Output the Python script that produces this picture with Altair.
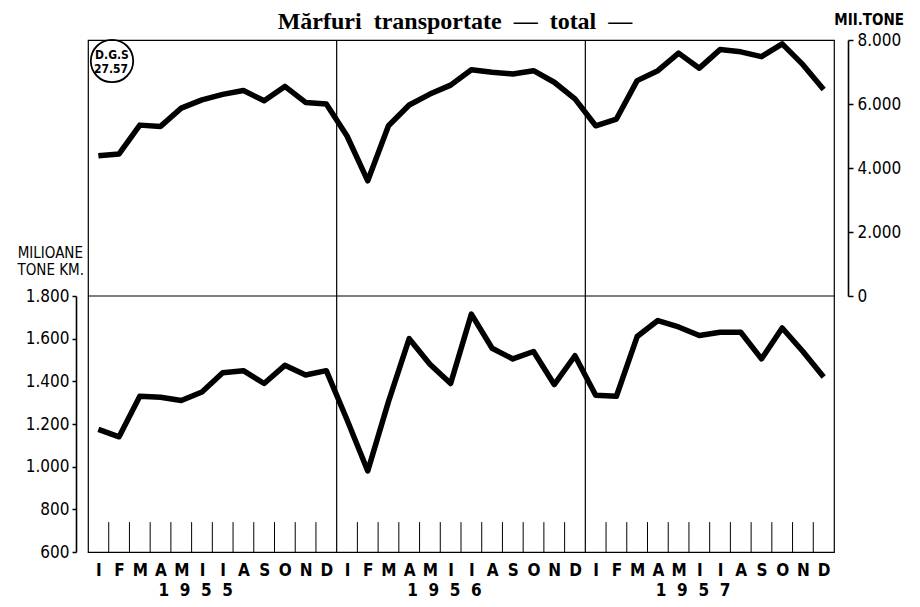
import altair as alt
import pandas as pd

months = ['I', 'F', 'M', 'A', 'M', 'I', 'I', 'A', 'S', 'O', 'N', 'D']
years = ['1955', '1956', '1957']
# Mii tone (upper panel, right axis)
tone = [4380, 4440, 5340, 5300, 5870, 6130, 6300, 6420, 6100, 6550, 6050, 6000,
        5000, 3600, 5320, 5970, 6310, 6590, 7070, 6990, 6940, 7040, 6680, 6160,
        5320, 5530, 6730, 7040, 7590, 7120, 7700, 7630, 7480, 7880, 7230, 6450]
# Milioane tone km (lower panel, left axis)
tkm = [1175, 1140, 1330, 1325, 1310, 1350, 1440, 1450, 1390, 1475, 1430, 1450,
       1220, 980, 1305, 1600, 1480, 1390, 1715, 1555, 1505, 1540, 1385, 1520,
       1335, 1330, 1610, 1685, 1655, 1615, 1630, 1630, 1505, 1650, 1540, 1420]
upper_ticks = [0, 2000, 4000, 6000, 8000]
lower_ticks = [600, 800, 1000, 1200, 1400, 1600, 1800]
title_text = "Mărfuri\u00a0\u00a0transportate\u00a0\u00a0—\u00a0\u00a0total\u00a0\u00a0—"

W, H, HU = 746, 512, 256
SANS = "Liberation Sans, Arial, sans-serif"
NARROW = "Liberation Sans Narrow, DejaVu Sans Condensed, Roboto Condensed, Liberation Sans, sans-serif"
SERIF = "Liberation Serif, Times New Roman, serif"
n = len(tone)

df = pd.DataFrame({"x": [i + 0.5 for i in range(n)], "tone": tone, "tkm": tkm})
df_div = pd.DataFrame({"x": [12 * k for k in range(1, len(years))]})
df_ticks = pd.DataFrame({"x": [i for i in range(1, n) if i % 12],
                         "y": lower_ticks[0], "y2": 740})
df_mid = pd.DataFrame({"y": [lower_ticks[-1]]})
df_years = pd.DataFrame({"x": [12 * k + 5.2 for k in range(len(years))],
                         "label": ["\u00a0\u00a0".join(y) for y in years]})
one = pd.DataFrame({"a": [0]})

num_expr = "replace(format(datum.value, ','), ',', '.')"
month_expr = "[" + ",".join("'%s'" % m for m in months) + "][floor(datum.value) % 12]"

xscale = alt.Scale(domain=[0, n], nice=False, zero=False)
xaxis = alt.Axis(values=[i + 0.5 for i in range(n)], labelExpr=month_expr, title=None,
                 domain=False, ticks=False, grid=False, labelFontSize=17, labelFont=NARROW,
                 labelFontWeight="bold", labelPadding=10, labelAngle=0,
                 labelOverlap=False, labelFlush=False)
X = alt.X("x:Q", scale=xscale, axis=xaxis)

uscale = alt.Scale(domain=[0, 8000], range=[HU, 0], nice=False, zero=False)
lscale = alt.Scale(domain=[600, 1800], range=[H, HU], nice=False, zero=False)

upper = alt.Chart(df).mark_line(color="black", strokeWidth=5.5, strokeJoin="round").encode(
    x=X,
    y=alt.Y("tone:Q", scale=uscale,
            axis=alt.Axis(orient="right", values=upper_ticks, labelExpr=num_expr,
                          offset=14, tickSize=5, tickWidth=1.5, domainWidth=1.6,
                          labelFontSize=17, labelFont=NARROW, labelPadding=4,
                          title=None, grid=False)))

lower = alt.Chart(df).mark_line(color="black", strokeWidth=5.5, strokeJoin="round").encode(
    x=X,
    y=alt.Y("tkm:Q", scale=lscale,
            axis=alt.Axis(orient="left", values=lower_ticks, labelExpr=num_expr,
                          offset=12, tickSize=4, tickWidth=1.5, domainWidth=1.6,
                          labelFontSize=17, labelFont=NARROW, labelPadding=3,
                          title=None, grid=False)))

mid = alt.Chart(df_mid).mark_rule(color="black", strokeWidth=1.2).encode(
    y=alt.Y("y:Q", scale=lscale, axis=None))

dividers = alt.Chart(df_div).mark_rule(color="black", strokeWidth=1.2).encode(x=X)

ticks = alt.Chart(df_ticks).mark_rule(color="black", strokeWidth=1).encode(
    x=X, y=alt.Y("y:Q", scale=lscale, axis=None), y2="y2:Q")

year_labels = alt.Chart(df_years).mark_text(
    baseline="alphabetic", fontSize=17, fontWeight="bold", font=NARROW, color="black").encode(
    x=X, y=alt.value(556), text="label:N")

title = alt.Chart(one).mark_text(
    text=title_text, font=SERIF, fontSize=24, fontWeight="bold", align="center",
    baseline="alphabetic", color="black").encode(x=alt.value(367), y=alt.value(-11))

mii = alt.Chart(one).mark_text(
    text="MII.TONE", font=NARROW, fontSize=15, fontWeight="bold", align="right",
    baseline="middle", color="black").encode(x=alt.value(816), y=alt.value(-20))

mil1 = alt.Chart(one).mark_text(
    text="MILIOANE", font=NARROW, fontSize=15, align="right", baseline="middle",
    color="black").encode(x=alt.value(-5), y=alt.value(HU - 43))
mil2 = alt.Chart(one).mark_text(
    text="TONE KM.", font=NARROW, fontSize=15, align="right", baseline="middle",
    color="black").encode(x=alt.value(-4), y=alt.value(HU - 26))

stamp = alt.Chart(one).mark_point(
    shape="circle", size=1800, filled=False, stroke="black", strokeWidth=1.8, opacity=1).encode(
    x=alt.value(24), y=alt.value(21))
stamp1 = alt.Chart(one).mark_text(
    text="D.G.S", font=NARROW, fontSize=12, fontWeight="bold", color="black").encode(
    x=alt.value(24), y=alt.value(15))
stamp2 = alt.Chart(one).mark_text(
    text="27.57", font=NARROW, fontSize=12, fontWeight="bold", color="black").encode(
    x=alt.value(23), y=alt.value(29))

chart = alt.layer(
    mid, dividers, ticks, upper, lower, year_labels, title, mii, mil1, mil2,
    stamp, stamp1, stamp2
).resolve_scale(y="independent").properties(
    width=W, height=H,
    autosize=alt.AutoSizeParams(type="none"),
    padding={"left": 80, "top": 32, "right": 72, "bottom": 52},
    background="white",
).configure_view(stroke="black", strokeWidth=1.2).configure_axis(
    labelFont=SANS, labelColor="black", domainColor="black", tickColor="black", grid=False)

chart.save("out.html", embed_options={"renderer": "svg", "actions": False})
